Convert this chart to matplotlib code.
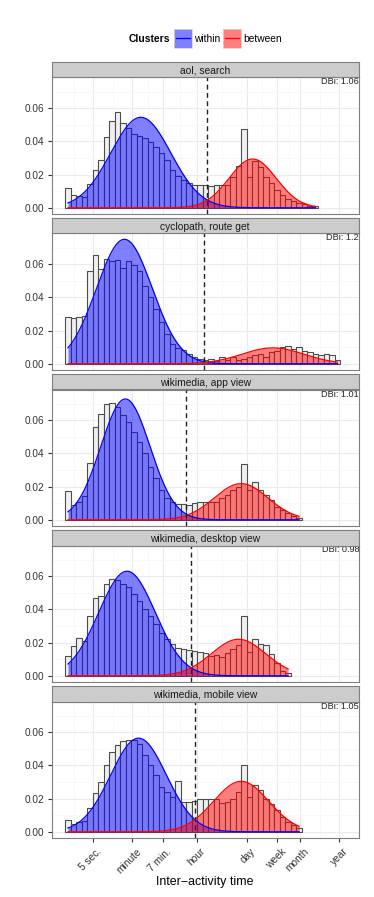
import numpy as np
import matplotlib
matplotlib.use("Agg")
import matplotlib.pyplot as plt
import matplotlib.transforms as mtransforms
from matplotlib.patches import Rectangle
from matplotlib.lines import Line2D
from matplotlib.ticker import NullFormatter

plt.rcParams['font.family'] = ['Liberation Sans', 'DejaVu Sans']

# ---------------- data ----------------
facets = ["aol, search", "cyclopath, route get", "wikimedia, app view",
          "wikimedia, desktop view", "wikimedia, mobile view"]
dbi = ["1.06", "1.2", "1.01", "0.98", "1.05"]

# histogram: bins in log10(seconds), first bin centred on 1 second
bin_width_log10 = 0.152
first_center_sec = 1.0

hist_aol = [0.012, 0.0076, 0.007, 0.0066, 0.0144, 0.023, 0.029, 0.0424, 0.052, 0.0576,
            0.051, 0.048, 0.0446, 0.043, 0.042, 0.0396, 0.0366, 0.033, 0.029, 0.023,
            0.019, 0.0166, 0.015, 0.014, 0.0136, 0.0136, 0.013, 0.0136, 0.0136, 0.0136,
            0.0186, 0.025, 0.0476, 0.0186, 0.028, 0.0246, 0.0186, 0.015, 0.011, 0.008,
            0.0055, 0.004, 0.003, 0.002, 0.0012, 0.0008]
hist_cyclopath = [0.0282, 0.0278, 0.0282, 0.0285, 0.056, 0.0658, 0.057, 0.063, 0.062, 0.0625,
                  0.058, 0.062, 0.0595, 0.056, 0.047, 0.040, 0.033, 0.025, 0.018, 0.012,
                  0.0095, 0.0085, 0.006, 0.004, 0.003, 0.0025, 0.003, 0.0015, 0.004, 0.002,
                  0.004, 0.002, 0.003, 0.004, 0.005, 0.006, 0.004, 0.007, 0.008, 0.010,
                  0.0105, 0.009, 0.010, 0.008, 0.007, 0.006, 0.005, 0.006, 0.0055, 0.002]
hist_app = [0.0175, 0.009, 0.011, 0.0145, 0.0345, 0.056, 0.064, 0.070, 0.0705, 0.068,
            0.063, 0.059, 0.053, 0.047, 0.040, 0.032, 0.025, 0.018, 0.013, 0.011,
            0.0095, 0.0095, 0.009, 0.010, 0.0105, 0.0105, 0.011, 0.011, 0.013, 0.015,
            0.018, 0.020, 0.0335, 0.018, 0.0225, 0.018, 0.015, 0.012, 0.008, 0.006,
            0.004, 0.002, 0.001]
hist_desktop = [0.012, 0.018, 0.0226, 0.021, 0.036, 0.0466, 0.048, 0.0556, 0.0586, 0.058,
                0.0556, 0.0536, 0.049, 0.045, 0.040, 0.036, 0.031, 0.026, 0.022, 0.019,
                0.017, 0.016, 0.0156, 0.015, 0.0146, 0.014, 0.012, 0.0126, 0.0116, 0.0136,
                0.016, 0.0186, 0.036, 0.0146, 0.0224, 0.019, 0.0186, 0.013, 0.0076, 0.003,
                0.0016]
hist_mobile = [0.007, 0.0044, 0.006, 0.0064, 0.0144, 0.0234, 0.030, 0.040, 0.048, 0.052,
               0.055, 0.0556, 0.0556, 0.053, 0.046, 0.040, 0.034, 0.027, 0.024, 0.021,
               0.0304, 0.018, 0.018, 0.0185, 0.0195, 0.020, 0.0195, 0.0195, 0.0175, 0.018,
               0.020, 0.024, 0.0405, 0.021, 0.028, 0.025, 0.020, 0.017, 0.013, 0.009,
               0.006, 0.004, 0.0025]
hists = [hist_aol, hist_cyclopath, hist_app, hist_desktop, hist_mobile]

# fitted normal components (in log10 seconds): mean, sd, peak height
within_mean = [2.011, 1.559, 1.586, 1.631, 1.949]
within_sd = [0.83, 0.77, 0.68, 0.78, 0.77]
within_peak = [0.0545, 0.075, 0.0728, 0.063, 0.0564]
between_mean = [5.10, 5.66, 4.783, 4.711, 4.783]
between_sd = [0.65, 0.85, 0.74, 0.75, 0.76]
between_peak = [0.0294, 0.0096, 0.0218, 0.022, 0.0304]

# cluster threshold (seconds)
threshold_sec = [7080, 5870, 1870, 2445, 3140]

cluster_names = ["within", "between"]
cluster_colors = ["blue", "red"]

tick_labels = ["5 sec.", "minute", "7 min.", "hour", "day", "week", "month", "year"]
tick_secs = [5, 60, 420, 3600, 86400, 604800, 2629800, 31557600]
y_ticks = [0.00, 0.02, 0.04, 0.06]
y_tick_labels = ["0.00", "0.02", "0.04", "0.06"]

# ---------------- drawing ----------------
W, H = 374, 897
fig = plt.figure(figsize=(W / 100, H / 100), dpi=100)


def rect(l, t, r, b):
    return [l / W, 1 - b / H, (r - l) / W, (b - t) / H]


tick_log = np.log10(tick_secs)
ext = np.concatenate([[2 * tick_log[0] - tick_log[1]], tick_log, [2 * tick_log[-1] - tick_log[-2]]])
minor_secs = 10 ** ((ext[:-1] + ext[1:]) / 2)

x_lo, x_hi = 10 ** -0.4556, 10 ** 7.898
y_lo, y_hi = -0.00374, 0.0785

BORDER = "#7F7F7F"
for i, name in enumerate(facets):
    top = 77.5 + 156 * i
    bot = top + 136.5
    ax = fig.add_axes(rect(51.5, top, 359, bot))
    sax = fig.add_axes(rect(51.5, top - 15.5, 359, top))

    h = np.array(hists[i])
    n = len(h)
    c_log = np.log10(first_center_sec) + bin_width_log10 * np.arange(n)
    edges = 10 ** np.concatenate([c_log - bin_width_log10 / 2, [c_log[-1] + bin_width_log10 / 2]])

    ax.set_xscale('log')
    ax.bar(edges[:-1], h, width=np.diff(edges), align='edge', facecolor='#F0F0F0',
           edgecolor='#4D4D4D', linewidth=0.8, zorder=2)

    xs_log = np.linspace(c_log[0], c_log[-1], 400)
    xs = 10 ** xs_log
    yw = within_peak[i] * np.exp(-0.5 * ((xs_log - within_mean[i]) / within_sd[i]) ** 2)
    yb = between_peak[i] * np.exp(-0.5 * ((xs_log - between_mean[i]) / between_sd[i]) ** 2)
    ax.fill_between(xs, 0, yw, color=cluster_colors[0], alpha=0.5, lw=0, zorder=3)
    ax.fill_between(xs, 0, yb, color=cluster_colors[1], alpha=0.5, lw=0, zorder=3)
    ax.plot(xs, yw, color=cluster_colors[0], lw=0.9, zorder=4)
    ax.plot(xs, yb, color=cluster_colors[1], lw=0.9, zorder=4)

    ax.axvline(threshold_sec[i], color='#222222', lw=1.0, ls=(0, (3.5, 2.5)), zorder=5)

    ax.set_xlim(x_lo, x_hi)
    ax.set_ylim(y_lo, y_hi)
    ax.set_xticks(tick_secs)
    ax.set_xticks(minor_secs, minor=True)
    ax.xaxis.set_minor_formatter(NullFormatter())
    ax.set_yticks(y_ticks)
    ax.set_yticks([0.01, 0.03, 0.05, 0.07], minor=True)
    ax.set_yticklabels(y_tick_labels, fontsize=7.2, color='#333333')
    ax.grid(which='major', color='#EBEBEB', lw=0.8)
    ax.grid(which='minor', color='#F7F7F7', lw=0.6)
    ax.set_axisbelow(True)
    ax.tick_params(which='minor', length=0)
    ax.tick_params(axis='y', which='major', length=3, width=0.8, color='#333333', pad=2.5)
    if i == len(facets) - 1:
        ax.set_xticklabels(tick_labels, fontsize=7.3, color='#333333', rotation=45,
                           ha='right', va='top', rotation_mode='anchor')
        ax.tick_params(axis='x', which='major', length=3, width=0.8, color='#333333', pad=3)
        shift = mtransforms.ScaledTranslation(3.5 / 100, 0, fig.dpi_scale_trans)
        for lab in ax.get_xticklabels():
            lab.set_transform(lab.get_transform() + shift)
    else:
        ax.set_xticklabels([])
        ax.tick_params(axis='x', which='major', length=0)
    for s in ax.spines.values():
        s.set_color(BORDER)
        s.set_linewidth(0.8)

    ax.text(1.0, 1.0, "DBi: " + dbi[i], transform=ax.transAxes, ha='right', va='top',
            fontsize=6.6, color='#222222', zorder=6)

    sax.set_facecolor('#CCCCCC')
    sax.set_xticks([])
    sax.set_yticks([])
    for s in sax.spines.values():
        s.set_color(BORDER)
        s.set_linewidth(0.8)
    sax.text(0.5, 0.45, name, transform=sax.transAxes, ha='center', va='center',
             fontsize=7.4, color='#1A1A1A')

# legend (drawn at the top, in figure pixel positions)
fig.text(128.3 / W, 1 - 38.5 / H, "Clusters", fontsize=7.4, weight='bold', ha='left', va='center')
key_left = [173.7, 222.7]
for name, col, kl in zip(cluster_names, cluster_colors, key_left):
    kx0, kx1, ky0, ky1 = kl, kl + 18.6, 29.0, 48.0
    fig.add_artist(Rectangle((kx0 / W, 1 - ky1 / H), (kx1 - kx0) / W, (ky1 - ky0) / H,
                             transform=fig.transFigure, facecolor=col, alpha=0.5,
                             edgecolor='none'))
    fig.add_artist(Rectangle((kx0 / W, 1 - ky1 / H), (kx1 - kx0) / W, (ky1 - ky0) / H,
                             transform=fig.transFigure, facecolor='none',
                             edgecolor='#D6D6D6', lw=0.6))
    fig.add_artist(Line2D([(kx0 + 2) / W, (kx1 - 2) / W], [1 - 38.5 / H, 1 - 38.5 / H],
                          transform=fig.transFigure, color=col, lw=0.9))
    fig.text((kx1 + 1.8) / W, 1 - 38.5 / H, name, fontsize=7.4, ha='left', va='center')

fig.text(205 / W, 1 - 881.7 / H, "Inter\u2212activity time", fontsize=8.9, ha='center', va='center')

fig.savefig("out.png", dpi=100)
